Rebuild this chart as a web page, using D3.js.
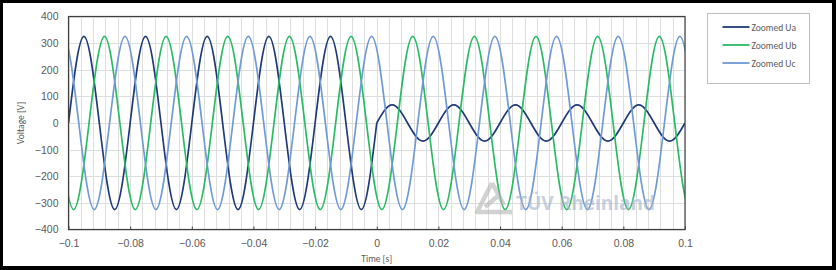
<!DOCTYPE html>
<html>
<head>
<meta charset="utf-8">
<script src="https://cdn.jsdelivr.net/npm/d3@7"></script>
<style>
    body { margin: 0; background: #fff; }
    svg { display: block; font-family: Calibri, Carlito, Lato, sans-serif; }
</style>
</head>
<body>
<svg id="chart"></svg>
<script>
// key points (extrema and zero crossings), [time s, voltage V]
// the waves run on past the window edges, so each list starts and ends on a zero crossing
const zoomedUa = [
    [-0.1, 0], [-0.095, 325], [-0.09, 0], [-0.085, -325], [-0.08, 0], [-0.075, 325], [-0.07, 0],
    [-0.065, -325], [-0.06, 0], [-0.055, 325], [-0.05, 0], [-0.045, -325], [-0.04, 0], [-0.035, 325],
    [-0.03, 0], [-0.025, -325], [-0.02, 0], [-0.015, 325], [-0.01, 0], [-0.005, -325], [0, 0],
    [0.005, 68], [0.01, 0], [0.015, -68], [0.02, 0], [0.025, 68], [0.03, 0], [0.035, -68], [0.04, 0],
    [0.045, 68], [0.05, 0], [0.055, -68], [0.06, 0], [0.065, 68], [0.07, 0], [0.075, -68], [0.08, 0],
    [0.085, 68], [0.09, 0], [0.095, -68], [0.1, 0]
];

const zoomedUb = [
    [-0.10333, 0], [-0.09833, -325], [-0.09333, 0], [-0.08833, 325], [-0.08333, 0], [-0.07833, -325],
    [-0.07333, 0], [-0.06833, 325], [-0.06333, 0], [-0.05833, -325], [-0.05333, 0], [-0.04833, 325],
    [-0.04333, 0], [-0.03833, -325], [-0.03333, 0], [-0.02833, 325], [-0.02333, 0], [-0.01833, -325],
    [-0.01333, 0], [-0.00833, 325], [-0.00333, 0], [0.00167, -325], [0.00667, 0], [0.01167, 325],
    [0.01667, 0], [0.02167, -325], [0.02667, 0], [0.03167, 325], [0.03667, 0], [0.04167, -325],
    [0.04667, 0], [0.05167, 325], [0.05667, 0], [0.06167, -325], [0.06667, 0], [0.07167, 325],
    [0.07667, 0], [0.08167, -325], [0.08667, 0], [0.09167, 325], [0.09667, 0], [0.10167, -325],
    [0.10667, 0]
];

const zoomedUc = [
    [-0.10667, 0], [-0.10167, 325], [-0.09667, 0], [-0.09167, -325], [-0.08667, 0], [-0.08167, 325],
    [-0.07667, 0], [-0.07167, -325], [-0.06667, 0], [-0.06167, 325], [-0.05667, 0], [-0.05167, -325],
    [-0.04667, 0], [-0.04167, 325], [-0.03667, 0], [-0.03167, -325], [-0.02667, 0], [-0.02167, 325],
    [-0.01667, 0], [-0.01167, -325], [-0.00667, 0], [-0.00167, 325], [0.00333, 0], [0.00833, -325],
    [0.01333, 0], [0.01833, 325], [0.02333, 0], [0.02833, -325], [0.03333, 0], [0.03833, 325],
    [0.04333, 0], [0.04833, -325], [0.05333, 0], [0.05833, 325], [0.06333, 0], [0.06833, -325],
    [0.07333, 0], [0.07833, 325], [0.08333, 0], [0.08833, -325], [0.09333, 0], [0.09833, 325],
    [0.10333, 0]
];

const seriesNames = ['Zoomed Ua', 'Zoomed Ub', 'Zoomed Uc'];
const seriesColors = ['#1f3a78', '#27bb64', '#6f9ad6'];

const xTicks = [-0.1, -0.08, -0.06, -0.04, -0.02, 0, 0.02, 0.04, 0.06, 0.08, 0.1];
const xMinorStep = 0.004;
const yTicks = [-400, -300, -200, -100, 0, 100, 200, 300, 400];

const width = 836, height = 270;
const plot = { left: 68.5, right: 685, top: 16.5, bottom: 229.5 };

const svg = d3.select('#chart')
    .attr('width', width)
    .attr('height', height);

// black frame round the picture
svg.append('rect').attr('width', width).attr('height', height).attr('fill', '#000');
svg.append('rect')
    .attr('x', 3).attr('y', 3)
    .attr('width', 829).attr('height', 263)
    .attr('fill', '#fff');

svg.append('clipPath')
    .attr('id', 'plot-clip')
    .append('rect')
    .attr('x', plot.left).attr('y', plot.top)
    .attr('width', plot.right - plot.left).attr('height', plot.bottom - plot.top);

const x = d3.scaleLinear().domain([-0.1, 0.1]).range([plot.left, plot.right]);
const y = d3.scaleLinear().domain([-400, 400]).range([plot.bottom, plot.top]);

// gridlines
const minor = d3.range(Math.round(0.2 / xMinorStep) + 1).map(i => -0.1 + i * xMinorStep);
svg.append('g')
    .selectAll('line')
    .data(minor)
    .join('line')
    .attr('x1', d => Math.round(x(d)) + 0.5).attr('x2', d => Math.round(x(d)) + 0.5)
    .attr('y1', plot.top).attr('y2', plot.bottom)
    .attr('stroke', '#dedede');

svg.append('g')
    .selectAll('line')
    .data(yTicks)
    .join('line')
    .attr('x1', plot.left).attr('x2', plot.right)
    .attr('y1', d => Math.round(y(d)) + 0.5).attr('y2', d => Math.round(y(d)) + 0.5)
    .attr('stroke', '#dedede');

// axes
const xAxis = svg.append('g')
    .attr('transform', `translate(0, ${plot.bottom})`)
    .call(d3.axisBottom(x).tickValues(xTicks).tickSizeInner(-3).tickSizeOuter(0).tickPadding(10)
        .tickFormat(d => d3.format('~g')(+d.toFixed(3))));
xAxis.select('.domain').remove();
xAxis.selectAll('line').attr('stroke', '#404040');
xAxis.selectAll('text').attr('fill', '#595959').attr('font-size', '10.5px');

const yAxis = svg.append('g')
    .attr('transform', `translate(${plot.left}, 0)`)
    .call(d3.axisLeft(y).tickValues(yTicks).tickSize(0).tickPadding(10).tickFormat(d3.format('d')));
yAxis.select('.domain').remove();
yAxis.selectAll('text').attr('fill', '#595959').attr('font-size', '10.5px');

svg.append('text')
    .attr('x', x(0)).attr('y', 262)
    .attr('text-anchor', 'middle')
    .attr('fill', '#595959').attr('font-size', '9.5px')
    .text('Time [s]');

svg.append('text')
    .attr('transform', `translate(24, ${y(0)}) rotate(-90)`)
    .attr('text-anchor', 'middle')
    .attr('fill', '#595959').attr('font-size', '9.5px')
    .text('Voltage [V]');

// series
const line = d3.line()
    .x(d => x(d[0]))
    .y(d => y(d[1]))
    .curve(d3.curveNatural);

// Ua changes amplitude at t = 0, so it is drawn in two pieces
const segments = [
    [zoomedUa.filter(d => d[0] <= 0), zoomedUa.filter(d => d[0] >= 0)],
    [zoomedUb],
    [zoomedUc]
];

const lines = svg.append('g').attr('clip-path', 'url(#plot-clip)');
segments.forEach((parts, i) => {
    lines.append('path')
        .attr('d', parts.map(p => line(p)).join(''))
        .attr('fill', 'none')
        .attr('stroke', seriesColors[i])
        .attr('stroke-width', 1.7)
        .attr('stroke-linejoin', 'round');
});

// plot frame
svg.append('rect')
    .attr('x', plot.left).attr('y', plot.top)
    .attr('width', plot.right - plot.left).attr('height', plot.bottom - plot.top)
    .attr('fill', 'none')
    .attr('stroke', '#404040')
    .attr('stroke-width', 1.2);

// watermark
const mark = svg.append('g').attr('opacity', 0.6);
mark.append('path')
    .attr('d', 'M492,183 L477,212 L512,212 M492,183 L504,205 M485,207 L499,195')
    .attr('fill', 'none')
    .attr('stroke', '#b4b4b4')
    .attr('stroke-width', 4.5)
    .attr('stroke-linejoin', 'round');
mark.append('text')
    .attr('x', 516).attr('y', 210)
    .attr('fill', '#a3b3ca')
    .attr('font-family', 'Open Sans, sans-serif')
    .attr('font-weight', 'bold')
    .attr('font-size', '19px')
    .text('TÜV Rheinland');

// legend
const legend = svg.append('g').attr('transform', 'translate(707.5, 13.5)');
legend.append('rect')
    .attr('width', 102).attr('height', 70)
    .attr('fill', '#fff')
    .attr('stroke', '#bfbfbf');

const item = legend.selectAll('g')
    .data(seriesNames)
    .join('g')
    .attr('transform', (d, i) => `translate(0, ${13.5 + i * 18})`);
item.append('line')
    .attr('x1', 15).attr('x2', 42)
    .attr('stroke', (d, i) => seriesColors[i])
    .attr('stroke-width', 1.8);
item.append('text')
    .attr('x', 44).attr('y', 3.5)
    .attr('fill', '#595959').attr('font-size', '9.5px')
    .text(d => d);
</script>
</body>
</html>
